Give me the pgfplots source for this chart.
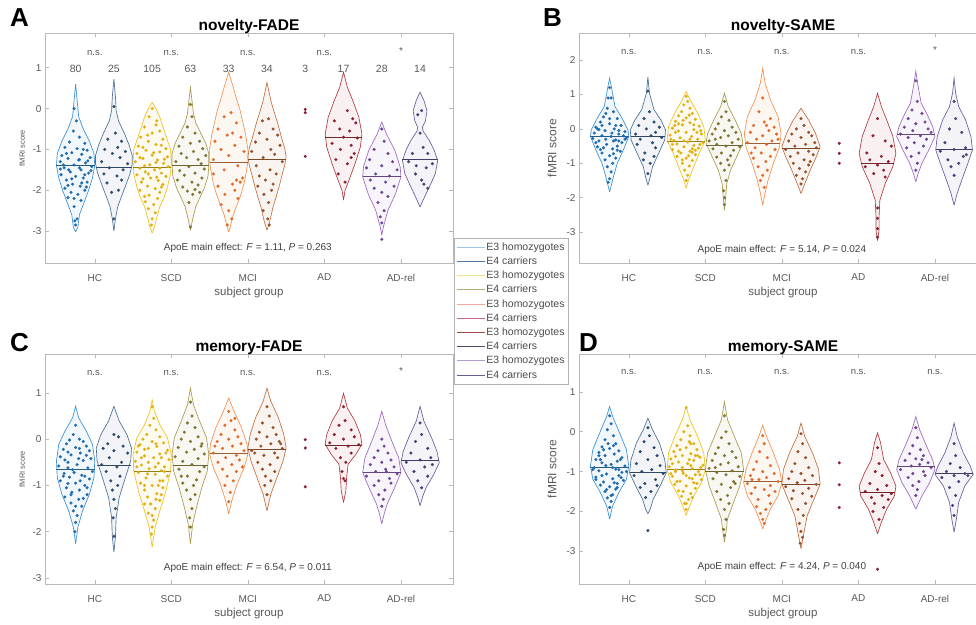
\documentclass[border=0pt]{standalone}
\usepackage{fontspec}
\setmainfont{Liberation Sans}
\usepackage{pgfplots}
\pgfplotsset{compat=1.18}

\definecolor{hcA}{HTML}{3A8FD0}
\definecolor{hcB}{HTML}{4A6F95}
\definecolor{scA}{HTML}{EEC21E}
\definecolor{scB}{HTML}{A89A50}
\definecolor{mcA}{HTML}{F09050}
\definecolor{mcB}{HTML}{C0703F}
\definecolor{adB}{HTML}{B03A40}
\definecolor{arA}{HTML}{9A6AC0}
\definecolor{arB}{HTML}{6A5A9A}
\definecolor{hcAd}{HTML}{1F6AAE}
\definecolor{hcBd}{HTML}{2E4A6E}
\definecolor{scAd}{HTML}{E0B010}
\definecolor{scBd}{HTML}{7F7430}
\definecolor{mcAd}{HTML}{E06A2A}
\definecolor{mcBd}{HTML}{94502A}
\definecolor{add}{HTML}{8A2030}
\definecolor{arAd}{HTML}{6E4596}
\definecolor{arBd}{HTML}{4A3D75}
\definecolor{lg1}{HTML}{9EC5E8}
\definecolor{lg2}{HTML}{4F77A3}
\definecolor{lg3}{HTML}{F2E08A}
\definecolor{lg4}{HTML}{B5AD78}
\definecolor{lg5}{HTML}{F2A8A0}
\definecolor{lg6}{HTML}{C86A88}
\definecolor{lg7}{HTML}{A04848}
\definecolor{lg8}{HTML}{4A4A6A}
\definecolor{lg9}{HTML}{B89AD8}
\definecolor{lg10}{HTML}{6A5A9A}

% violin outline from a profile list y/halfwidth (bottom tip to top tip)
\newcommand{\violin}[3]{%
  \gdef\vR{}\gdef\vL{}%
  \foreach \yy/\ww in {#3}{%
    \pgfmathsetmacro\xr{#1+\ww}%
    \pgfmathsetmacro\xl{#1-\ww}%
    \xdef\vR{\vR(\xr,\yy)}%
    \xdef\vL{(\xl,\yy)\vL}%
  }%
  \edef\temp{\noexpand\addplot[draw=#2,fill=#2,fill opacity=0.07,line width=0.65pt,forget plot] coordinates {\vR\vL};}%
  \temp
}
\newcommand{\med}[4]{%
  \pgfmathsetmacro\ma{#1-#2}\pgfmathsetmacro\mb{#1+#2}%
  \edef\temp{\noexpand\addplot[draw=#4!65!black,line width=0.9pt,forget plot] coordinates {(\ma,#3) (\mb,#3)};}%
  \temp
}
\newcommand{\pts}[3]{%
  \addplot[only marks,mark=*,mark size=1.45pt,color=#2,mark options={line width=0.2pt},forget plot]
   table[header=false,x expr=\thisrowno{0}+#1,y index=1,row sep=\\]{#3};%
}
\newcommand{\ns}[2]{\node[smalllab] at (axis cs:#1,#2) {n.s.};}
\newcommand{\cnt}[2]{\node[font=\fontsize{10.5}{12}\selectfont, text=black!65] at (axis cs:#1,0.98) {#2};}

\tikzset{
 smalllab/.style={font=\fontsize{9.5}{11}\selectfont, text=black!65},
 apoe/.style={font=\fontsize{10}{12}\selectfont, text=black!75},
}
\pgfplotsset{
 vstyle/.style={
  scale only axis, width=408pt, height=230pt, anchor=south west,
  xmin=0.35, xmax=5.68,
  xtick={1,2,3,4,5}, xticklabels={HC,SCD,MCI,AD,AD-rel},
  tick align=inside, tick pos=both, major tick length=4pt,
  axis line style={gray!55}, tick style={gray!55,line width=0.5pt},
  ticklabel style={font=\fontsize{10}{12}\selectfont, text=black!65},
  xticklabel style={yshift=-7.5pt},
  /pgf/number format/assume math mode=true,
  xlabel={subject group},
  xlabel style={font=\fontsize{11.5}{13}\selectfont, text=black!65, at={(axis description cs:0.5,0)}, anchor=center, yshift=-30pt},
  ylabel={fMRI score},
  title style={font=\bfseries\fontsize{15.5}{18}\selectfont, at={(axis description cs:0.5,1)}, anchor=base, yshift=-3.5pt},
  clip=false,
 },
 leftyl/.style={ylabel style={font=\fontsize{7.5}{9}\selectfont, text=black!65, at={(axis description cs:-0.056,0.5)}, anchor=center}},
 rightyl/.style={ylabel style={font=\fontsize{12}{14}\selectfont, text=black!65, at={(axis description cs:-0.066,0.5)}, anchor=center}},
}

\begin{document}
\begin{tikzpicture}[x=1pt,y=1pt]
\useasboundingbox (0pt,0pt) rectangle (976pt,624pt);
\fill[white] (0pt,0pt) rectangle (976pt,624pt);
\clip (0pt,0pt) rectangle (976pt,624pt);

% ================= B: novelty-SAME =================
\begin{axis}[vstyle, rightyl, at={(579pt,361pt)}, ymin=-3.9, ymax=2.79, ytick={-3,-2,-1,0,1,2}, title={novelty-SAME}]
\violin{0.75}{hcA}{-1.83/0, -1.39/0.05, -1.0/0.1, -0.61/0.18, -0.22/0.25, -0.03/0.24, 0.36/0.15, 0.65/0.07, 1.14/0.03, 1.48/0}
\violin{1.25}{hcB}{-1.64/0, -1.4/0.03, -1.1/0.06, -0.71/0.14, -0.32/0.22, -0.03/0.23, 0.26/0.17, 0.56/0.08, 1.04/0.02, 1.51/0}
\violin{1.75}{scA}{-1.73/0, -1.49/0.03, -1.1/0.1, -0.71/0.17, -0.32/0.25, 0.07/0.23, 0.46/0.15, 0.85/0.05, 1.09/0}
\violin{2.25}{scB}{-2.37/0, -1.88/0.02, -1.59/0.03, -1.2/0.08, -0.81/0.16, -0.42/0.24, -0.13/0.22, 0.26/0.14, 0.65/0.05, 1.04/0}
\violin{2.75}{mcA}{-2.22/0, -1.88/0.03, -1.49/0.07, -1.0/0.14, -0.52/0.22, -0.13/0.24, 0.36/0.2, 0.85/0.1, 1.34/0.03, 1.77/0}
\violin{3.25}{mcB}{-1.88/0, -1.59/0.05, -1.2/0.12, -0.81/0.2, -0.52/0.25, -0.13/0.19, 0.26/0.1, 0.6/0}
\violin{4.25}{adB}{-3.25/0, -2.95/0.02, -2.56/0.02, -2.08/0.03, -1.59/0.1, -1.1/0.2, -0.71/0.24, -0.22/0.2, 0.26/0.12, 0.65/0.05, 1.04/0}
\violin{4.75}{arA}{-1.54/0, -1.3/0.03, -1.0/0.08, -0.61/0.17, -0.22/0.25, 0.07/0.22, 0.46/0.14, 0.75/0.07, 1.24/0.03, 1.68/0}
\violin{5.25}{arB}{-2.22/0, -1.88/0.04, -1.49/0.1, -1.0/0.18, -0.61/0.24, -0.22/0.22, 0.26/0.15, 0.65/0.06, 1.04/0.02, 1.48/0}
\pts{0.75}{hcAd}{0.0 1.2\\0.02 0.9\\-0.03 0.6\\0.05 0.5\\-0.08 0.35\\0.1 0.3\\-0.12 0.2\\0.0 0.15\\0.15 0.1\\-0.18 0.05\\0.06 0.0\\-0.06 -0.05\\0.2 -0.08\\-0.2 -0.12\\0.12 -0.15\\-0.1 -0.2\\0.02 -0.22\\0.22 -0.25\\-0.22 -0.28\\0.08 -0.32\\-0.14 -0.35\\0.16 -0.4\\-0.04 -0.45\\0.1 -0.5\\-0.16 -0.52\\0.04 -0.58\\0.14 -0.65\\-0.1 -0.7\\0.0 -0.78\\0.08 -0.85\\-0.06 -0.9\\0.04 -1.0\\-0.03 -1.1\\0.02 -1.25\\0.0 -1.45\\-0.02 -1.55\\0.18 -0.2\\-0.16 0.0\\0.05 -0.35\\-0.05 0.45\\}
\pts{0.75}{hcAd}{0.08 0.1\\-0.1 0.1\\0.12 -0.05\\-0.14 -0.02\\0.03 -0.12\\-0.05 -0.3\\0.12 -0.35\\-0.18 -0.4\\0.2 -0.3\\-0.08 -0.55\\0.1 -0.62\\-0.12 -0.6\\0.05 -0.72\\0.0 0.3\\-0.02 0.9\\}
\pts{1.25}{hcBd}{0.0 1.1\\0.02 0.5\\-0.05 0.3\\0.08 0.2\\-0.12 0.1\\0.15 0.05\\-0.02 0.0\\0.1 -0.1\\-0.16 -0.15\\0.04 -0.2\\0.18 -0.25\\-0.1 -0.3\\0.06 -0.4\\-0.14 -0.45\\0.1 -0.55\\-0.04 -0.7\\0.08 -0.8\\-0.06 -0.9\\0.03 -1.0\\0.0 -1.3\\}
\pts{1.75}{scAd}{0.0 0.95\\0.02 0.8\\-0.03 0.7\\0.05 0.6\\-0.06 0.5\\0.08 0.45\\-0.1 0.38\\0.0 0.32\\0.12 0.28\\-0.14 0.22\\0.05 0.18\\-0.05 0.12\\0.17 0.08\\-0.18 0.02\\0.1 -0.02\\-0.1 -0.06\\0.0 -0.1\\0.2 -0.15\\-0.21 -0.18\\0.07 -0.22\\-0.08 -0.26\\0.15 -0.3\\-0.16 -0.34\\0.02 -0.38\\0.22 -0.4\\-0.12 -0.44\\0.1 -0.48\\-0.03 -0.52\\0.16 -0.56\\-0.18 -0.6\\0.05 -0.65\\-0.07 -0.7\\0.12 -0.75\\-0.12 -0.8\\0.0 -0.85\\0.08 -0.92\\-0.05 -1.0\\0.04 -1.08\\-0.02 -1.2\\0.02 -1.35\\0.0 -1.5\\-0.2 -0.3\\0.19 -0.05\\-0.15 0.1\\0.12 -0.62\\}
\pts{1.75}{scAd}{0.04 0.4\\-0.04 0.25\\0.1 0.12\\-0.1 0.15\\0.14 -0.1\\-0.14 -0.1\\0.05 -0.3\\-0.03 -0.35\\0.18 -0.45\\-0.18 -0.45\\0.08 -0.58\\-0.1 -0.65\\0.03 -0.78\\-0.05 -0.9\\0.08 -0.68\\}
\pts{2.25}{scBd}{0.0 0.8\\0.02 0.5\\-0.04 0.35\\0.06 0.25\\-0.08 0.15\\0.1 0.05\\-0.12 0.0\\0.0 -0.05\\0.15 -0.1\\-0.16 -0.15\\0.05 -0.2\\-0.05 -0.25\\0.18 -0.3\\-0.2 -0.35\\0.1 -0.4\\-0.1 -0.45\\0.02 -0.5\\0.2 -0.52\\-0.15 -0.58\\0.12 -0.62\\-0.04 -0.7\\0.08 -0.78\\-0.1 -0.82\\0.04 -0.9\\-0.05 -1.0\\0.06 -1.05\\0.0 -1.2\\0.02 -1.5\\-0.01 -1.8\\0.0 -2.0\\0.0 -2.2\\-0.12 -0.3\\}
\pts{2.75}{mcAd}{0.0 0.9\\-0.05 0.5\\0.1 0.3\\0.02 0.2\\-0.12 0.1\\0.15 0.05\\0.08 -0.05\\-0.16 -0.1\\0.18 -0.15\\0.0 -0.2\\-0.08 -0.3\\0.12 -0.35\\-0.2 -0.4\\0.05 -0.45\\-0.1 -0.55\\0.16 -0.6\\-0.02 -0.7\\0.1 -0.8\\-0.12 -0.85\\0.04 -0.95\\-0.06 -1.1\\0.06 -1.2\\0.0 -1.35\\-0.03 -1.5\\0.02 -1.7\\0.2 -0.3\\0.05 0.1\\-0.15 -0.7\\}
\pts{3.25}{mcBd}{0.0 0.3\\0.04 0.1\\-0.06 0.0\\0.1 -0.1\\-0.12 -0.15\\0.14 -0.2\\0.0 -0.25\\-0.16 -0.35\\0.18 -0.4\\0.06 -0.45\\-0.08 -0.5\\0.2 -0.55\\-0.2 -0.6\\0.1 -0.65\\-0.04 -0.7\\0.16 -0.75\\-0.14 -0.8\\0.04 -0.9\\-0.1 -1.0\\0.1 -1.05\\-0.02 -1.15\\0.06 -1.25\\-0.06 -1.35\\0.02 -1.45\\0.0 -1.6\\0.12 -0.95\\}
\pts{3.75}{add}{0 -0.42\\0 -0.71\\0 -1.0\\}
\pts{4.25}{add}{0.0 0.3\\-0.06 -0.2\\0.1 -0.35\\-0.14 -0.7\\0.18 -0.5\\0.05 -0.8\\-0.1 -0.9\\0.14 -0.95\\0.0 -1.05\\-0.16 -1.1\\0.08 -1.2\\-0.05 -1.3\\0.1 -1.4\\0.0 -2.3\\0.0 -2.6\\0.0 -2.9\\0.0 -3.15\\}
\pts{4.75}{arAd}{0.0 1.4\\0.02 0.8\\-0.05 0.55\\0.08 0.45\\-0.1 0.3\\0.12 0.2\\0.0 0.15\\-0.15 0.05\\0.16 0.0\\-0.04 -0.05\\0.2 -0.1\\-0.2 -0.15\\0.06 -0.2\\-0.1 -0.25\\0.14 -0.3\\-0.02 -0.4\\0.1 -0.5\\-0.12 -0.55\\0.04 -0.7\\-0.06 -0.8\\0.02 -1.0\\0.0 -1.2\\}
\pts{5.25}{arBd}{0.0 0.8\\0.02 0.3\\-0.06 0.0\\0.1 -0.1\\-0.12 -0.4\\0.15 -0.55\\0.0 -0.6\\-0.18 -0.65\\0.12 -0.8\\-0.08 -0.9\\0.06 -1.0\\0.16 -0.75\\0.0 -1.35\\-0.04 -1.1\\}
\med{0.75}{0.25}{-0.22}{hcA}
\med{1.25}{0.22}{-0.22}{hcB}
\med{1.75}{0.25}{-0.37}{scA}
\med{2.25}{0.24}{-0.47}{scB}
\med{2.75}{0.23}{-0.42}{mcA}
\med{3.25}{0.25}{-0.57}{mcB}
\med{4.25}{0.22}{-1.0}{adB}
\med{4.75}{0.25}{-0.15}{arA}
\med{5.25}{0.24}{-0.59}{arB}
\ns{1}{2.25}\ns{2}{2.25}\ns{3}{2.25}\ns{4}{2.25}
\node[font=\fontsize{10}{12}\selectfont, text=black!65] at (axis cs:5,2.3) {*};
\node[apoe] at (axis cs:3,-3.51) {ApoE main effect: \textit{F} = 5.14, \textit{P} = 0.024};
\end{axis}

% ================= C: memory-FADE =================
\begin{axis}[vstyle, leftyl, at={(45pt,40pt)}, ymin=-3.13, ymax=1.84, ytick={-3,-2,-1,0,1}, title={memory-FADE}]
\violin{0.75}{hcA}{-2.26/0, -1.9/0.03, -1.55/0.09, -1.19/0.18, -0.83/0.24, -0.47/0.25, -0.11/0.22, 0.17/0.14, 0.46/0.04, 0.71/0}
\violin{1.25}{hcB}{-2.44/0, -2.12/0.02, -1.69/0.03, -1.26/0.07, -0.83/0.15, -0.47/0.22, -0.19/0.23, 0.1/0.17, 0.39/0.07, 0.71/0}
\violin{1.75}{scA}{-2.33/0, -1.9/0.04, -1.55/0.1, -1.12/0.18, -0.69/0.24, -0.33/0.25, 0.03/0.2, 0.31/0.1, 0.6/0.03, 0.85/0}
\violin{2.25}{scB}{-2.26/0, -1.83/0.03, -1.47/0.08, -1.04/0.15, -0.69/0.22, -0.33/0.24, 0.03/0.21, 0.39/0.12, 0.74/0.04, 1.1/0}
\violin{2.75}{mcA}{-1.62/0, -1.33/0.04, -0.97/0.11, -0.62/0.2, -0.33/0.25, -0.11/0.24, 0.24/0.17, 0.6/0.07, 0.89/0}
\violin{3.25}{mcB}{-1.55/0, -1.19/0.05, -0.83/0.13, -0.47/0.21, -0.19/0.25, 0.1/0.22, 0.46/0.15, 0.82/0.05, 1.1/0}
\violin{4.25}{adB}{-1.37/0, -1.12/0.03, -0.83/0.04, -0.54/0.06, -0.33/0.16, -0.11/0.24, 0.1/0.22, 0.39/0.15, 0.67/0.05, 0.99/0}
\violin{4.75}{arA}{-1.83/0, -1.62/0.03, -1.4/0.07, -1.04/0.17, -0.72/0.25, -0.4/0.22, -0.04/0.13, 0.31/0.05, 0.6/0}
\violin{5.25}{arB}{-1.44/0, -1.26/0.03, -1.04/0.08, -0.76/0.18, -0.51/0.25, -0.26/0.22, 0.03/0.15, 0.39/0.05, 0.71/0}
\pts{0.75}{hcAd}{0.0 0.3\\-0.03 0.1\\0.05 0.0\\-0.08 -0.02\\0.1 -0.05\\-0.12 -0.1\\0.14 -0.15\\0.0 -0.18\\-0.16 -0.22\\0.18 -0.25\\0.06 -0.3\\-0.06 -0.34\\-0.2 -0.38\\0.2 -0.42\\0.1 -0.46\\-0.1 -0.5\\0.02 -0.55\\-0.22 -0.58\\0.16 -0.62\\-0.04 -0.66\\0.22 -0.7\\-0.15 -0.74\\0.08 -0.78\\-0.08 -0.82\\0.18 -0.86\\-0.2 -0.9\\0.0 -0.95\\0.12 -1.0\\-0.12 -1.05\\0.05 -1.1\\-0.05 -1.15\\0.15 -1.2\\-0.14 -1.25\\0.04 -1.3\\-0.06 -1.38\\0.08 -1.45\\-0.03 -1.55\\0.02 -1.65\\0.0 -1.8\\-0.01 -2.0\\}
\pts{0.75}{hcAd}{0.05 -0.2\\-0.1 -0.28\\0.14 -0.35\\-0.14 -0.45\\0.04 -0.42\\-0.02 -0.72\\0.12 -0.8\\-0.16 -0.8\\0.06 -0.9\\-0.1 -0.96\\0.15 -1.05\\-0.06 -1.2\\0.1 -1.28\\0.0 -1.45\\-0.1 -0.62\\}
\pts{1.25}{hcBd}{0.0 0.1\\0.06 0.05\\-0.08 -0.1\\0.12 -0.15\\-0.14 -0.2\\0.0 -0.25\\0.18 -0.3\\-0.06 -0.4\\0.1 -0.5\\-0.16 -0.55\\0.04 -0.6\\-0.1 -0.7\\0.08 -0.8\\-0.04 -0.9\\0.05 -1.0\\-0.02 -1.1\\0.0 -1.3\\0.02 -1.5\\-0.01 -1.7\\0.0 -2.1\\}
\pts{1.75}{scAd}{0.0 0.7\\0.02 0.45\\-0.03 0.3\\0.05 0.2\\-0.07 0.1\\0.1 0.05\\-0.12 0.0\\0.0 -0.05\\0.15 -0.08\\-0.16 -0.12\\0.06 -0.16\\-0.05 -0.2\\0.2 -0.24\\-0.2 -0.28\\0.1 -0.32\\-0.1 -0.36\\0.02 -0.4\\0.22 -0.44\\-0.22 -0.48\\0.08 -0.52\\-0.14 -0.56\\0.16 -0.6\\-0.04 -0.64\\0.12 -0.68\\-0.18 -0.72\\0.04 -0.76\\0.2 -0.8\\-0.08 -0.84\\0.1 -0.9\\-0.15 -0.95\\0.0 -1.0\\0.14 -1.05\\-0.1 -1.1\\0.06 -1.18\\-0.06 -1.25\\0.1 -1.32\\-0.02 -1.4\\0.04 -1.5\\-0.05 -1.6\\0.02 -1.75\\0.0 -1.9\\-0.01 -2.05\\0.18 -0.3\\-0.18 -0.15\\0.14 -0.9\\}
\pts{1.75}{scAd}{0.05 -0.1\\-0.1 -0.22\\0.12 -0.4\\-0.14 -0.4\\0.04 -0.6\\-0.06 -0.75\\0.16 -0.7\\-0.2 -0.6\\0.08 -1.0\\-0.1 -1.0\\0.12 -1.2\\-0.1 -1.4\\0.05 -1.3\\0.0 -1.65\\-0.05 -0.5\\}
\pts{2.25}{scBd}{0.0 0.8\\0.02 0.5\\-0.04 0.35\\0.06 0.25\\-0.08 0.15\\0.1 0.05\\-0.12 0.0\\0.0 -0.05\\0.15 -0.1\\-0.16 -0.18\\0.05 -0.22\\-0.05 -0.28\\0.18 -0.32\\-0.2 -0.38\\0.1 -0.42\\-0.1 -0.48\\0.02 -0.55\\0.18 -0.6\\-0.15 -0.65\\0.12 -0.7\\-0.04 -0.8\\0.08 -0.88\\-0.1 -0.95\\0.04 -1.0\\-0.05 -1.1\\0.06 -1.2\\0.0 -1.3\\0.02 -1.5\\-0.01 -1.7\\0.0 -1.9\\0.14 -0.15\\-0.12 -0.8\\}
\pts{2.75}{mcAd}{0.0 0.6\\0.03 0.4\\-0.05 0.3\\0.08 0.2\\-0.1 0.1\\0.12 0.05\\0.0 0.0\\-0.15 -0.05\\0.16 -0.1\\0.05 -0.15\\-0.08 -0.2\\0.2 -0.25\\-0.2 -0.3\\0.1 -0.35\\-0.04 -0.4\\0.14 -0.45\\-0.14 -0.5\\0.04 -0.55\\-0.08 -0.65\\0.1 -0.7\\-0.02 -0.8\\0.06 -0.9\\-0.05 -1.0\\0.02 -1.15\\0.0 -1.35\\0.18 -0.6\\-0.18 -0.15\\0.08 0.45\\}
\pts{3.25}{mcBd}{0.0 0.7\\0.03 0.5\\-0.06 0.35\\0.08 0.25\\-0.1 0.15\\0.12 0.1\\0.0 0.05\\-0.14 0.0\\0.16 -0.05\\0.05 -0.1\\-0.08 -0.15\\0.2 -0.2\\-0.2 -0.25\\0.1 -0.3\\-0.04 -0.35\\0.14 -0.4\\-0.12 -0.5\\0.04 -0.55\\-0.06 -0.65\\0.1 -0.7\\-0.02 -0.8\\0.05 -0.9\\-0.03 -1.0\\0.0 -1.2\\0.18 -0.1\\-0.16 -0.3\\}
\pts{3.75}{add}{0 -0.01\\0 -0.19\\0 -1.03\\}
\pts{4.25}{add}{0.0 0.7\\0.02 0.4\\-0.06 0.3\\0.1 0.2\\-0.12 0.1\\0.14 0.05\\0.0 0.0\\-0.18 -0.08\\0.2 -0.12\\0.06 -0.15\\-0.1 -0.2\\0.1 -0.3\\-0.04 -0.4\\0.03 -0.5\\0.0 -0.85\\0.02 -0.9\\-0.02 -0.7\\}
\pts{4.75}{arAd}{0.0 0.0\\0.03 -0.15\\-0.05 -0.25\\0.08 -0.3\\-0.1 -0.4\\0.12 -0.45\\0.0 -0.5\\-0.15 -0.55\\0.16 -0.6\\0.05 -0.65\\-0.08 -0.7\\0.2 -0.75\\-0.2 -0.8\\0.1 -0.85\\-0.04 -0.9\\0.12 -0.95\\-0.1 -1.0\\0.04 -1.1\\-0.04 -1.2\\0.02 -1.3\\0.0 -1.45\\0.06 -0.7\\}
\pts{5.25}{arBd}{0.0 0.35\\0.02 0.1\\-0.06 -0.05\\0.1 -0.2\\-0.12 -0.3\\0.14 -0.4\\0.0 -0.45\\-0.18 -0.5\\0.16 -0.55\\0.06 -0.6\\-0.08 -0.7\\0.1 -0.8\\-0.03 -0.9\\0.02 -1.05\\}
\med{0.75}{0.25}{-0.65}{hcA}
\med{1.25}{0.22}{-0.57}{hcB}
\med{1.75}{0.24}{-0.69}{scA}
\med{2.25}{0.23}{-0.57}{scB}
\med{2.75}{0.25}{-0.31}{mcA}
\med{3.25}{0.25}{-0.22}{mcB}
\med{4.25}{0.24}{-0.14}{adB}
\med{4.75}{0.25}{-0.72}{arA}
\med{5.25}{0.25}{-0.47}{arB}
\ns{1}{1.42}\ns{2}{1.42}\ns{3}{1.42}\ns{4}{1.42}
\node[font=\fontsize{10}{12}\selectfont, text=black!65] at (axis cs:5,1.47) {*};
\node[apoe] at (axis cs:3,-2.79) {ApoE main effect: \textit{F} = 6.54, \textit{P} = 0.011};
\end{axis}

% ================= D: memory-SAME =================
\begin{axis}[vstyle, rightyl, at={(579pt,40pt)}, ymin=-3.82, ymax=1.95, ytick={-3,-2,-1,0,1}, title={memory-SAME}]
\violin{0.75}{hcA}{-2.19/0, -1.86/0.04, -1.53/0.12, -1.19/0.22, -0.86/0.25, -0.45/0.22, -0.03/0.13, 0.38/0.04, 0.63/0}
\violin{1.25}{hcB}{-2.06/0, -1.94/0.03, -1.69/0.07, -1.36/0.16, -1.03/0.24, -0.7/0.22, -0.28/0.15, 0.05/0.06, 0.34/0}
\violin{1.75}{scA}{-2.1/0, -1.94/0.03, -1.61/0.1, -1.28/0.2, -0.95/0.25, -0.53/0.23, -0.12/0.15, 0.3/0.05, 0.63/0}
\violin{2.25}{scB}{-2.77/0, -2.52/0.02, -2.19/0.04, -1.77/0.12, -1.36/0.2, -0.95/0.25, -0.53/0.22, -0.12/0.13, 0.3/0.04, 0.75/0}
\violin{2.75}{mcA}{-2.44/0, -2.27/0.03, -1.94/0.1, -1.61/0.2, -1.28/0.25, -0.95/0.22, -0.53/0.14, -0.12/0.05, 0.17/0}
\violin{3.25}{mcB}{-2.94/0, -2.52/0.04, -2.11/0.08, -1.69/0.17, -1.32/0.25, -0.95/0.23, -0.53/0.15, -0.12/0.05, 0.22/0}
\violin{4.25}{adB}{-2.56/0, -2.27/0.05, -1.94/0.12, -1.61/0.22, -1.36/0.24, -1.03/0.17, -0.7/0.08, -0.28/0.04, -0.03/0}
\violin{4.75}{arA}{-1.94/0, -1.61/0.08, -1.28/0.18, -0.95/0.25, -0.7/0.22, -0.36/0.14, 0.05/0.05, 0.38/0}
\violin{5.25}{arB}{-2.52/0, -2.19/0.03, -1.77/0.06, -1.36/0.14, -1.07/0.25, -0.86/0.21, -0.53/0.12, -0.12/0.04, 0.22/0}
\pts{0.75}{hcAd}{0.0 0.4\\0.02 0.2\\-0.03 0.05\\0.05 -0.1\\-0.06 -0.2\\0.08 -0.3\\-0.1 -0.38\\0.0 -0.42\\0.12 -0.48\\-0.14 -0.52\\0.06 -0.56\\-0.06 -0.6\\0.16 -0.65\\-0.18 -0.7\\0.1 -0.74\\-0.1 -0.78\\0.02 -0.82\\0.2 -0.86\\-0.2 -0.9\\0.08 -0.94\\-0.14 -0.98\\0.16 -1.02\\-0.04 -1.06\\0.12 -1.1\\-0.18 -1.14\\0.04 -1.18\\0.18 -1.22\\-0.08 -1.26\\0.1 -1.3\\-0.12 -1.34\\0.0 -1.38\\0.08 -1.44\\-0.06 -1.5\\0.04 -1.58\\-0.03 -1.66\\0.02 -1.75\\0.0 -1.9\\-0.22 -0.95\\0.22 -1.0\\-0.12 -0.7\\}
\pts{0.75}{hcAd}{0.05 -0.35\\-0.08 -0.45\\0.14 -0.7\\-0.14 -0.6\\0.04 -0.9\\-0.05 -0.85\\0.15 -1.15\\-0.18 -1.2\\0.06 -1.28\\-0.1 -1.1\\0.12 -0.95\\-0.04 -1.45\\0.1 -1.4\\0.02 -1.6\\-0.02 -0.3\\}
\pts{1.25}{hcBd}{0.0 0.1\\0.02 -0.1\\-0.05 -0.25\\0.08 -0.4\\-0.1 -0.5\\0.12 -0.6\\0.0 -0.7\\-0.15 -0.8\\0.16 -0.85\\0.05 -0.95\\-0.08 -1.0\\0.2 -1.05\\-0.18 -1.1\\0.1 -1.2\\-0.04 -1.3\\0.12 -1.35\\-0.1 -1.4\\0.04 -1.5\\-0.03 -1.65\\0.0 -2.48\\}
\pts{1.75}{scAd}{0.0 0.6\\0.02 0.15\\-0.03 0.0\\0.05 -0.1\\-0.07 -0.2\\0.1 -0.3\\-0.12 -0.35\\0.0 -0.4\\0.14 -0.45\\-0.16 -0.5\\0.06 -0.55\\-0.05 -0.6\\0.18 -0.64\\-0.2 -0.68\\0.1 -0.72\\-0.1 -0.76\\0.02 -0.8\\0.22 -0.84\\-0.22 -0.88\\0.08 -0.92\\-0.14 -0.96\\0.16 -1.0\\-0.04 -1.04\\0.12 -1.08\\-0.18 -1.12\\0.04 -1.16\\0.2 -1.2\\-0.08 -1.24\\0.1 -1.28\\-0.15 -1.32\\0.0 -1.36\\0.12 -1.42\\-0.1 -1.48\\0.06 -1.55\\-0.06 -1.62\\0.03 -1.7\\-0.02 -1.8\\0.0 -1.95\\0.19 -0.9\\-0.18 -0.8\\0.15 -0.6\\-0.14 -1.0\\0.06 -0.3\\-0.05 -0.9\\0.0 -1.1\\}
\pts{1.75}{scAd}{0.04 -0.25\\-0.08 -0.45\\0.12 -0.6\\-0.14 -0.62\\0.04 -0.7\\-0.05 -0.98\\0.18 -1.08\\-0.2 -1.05\\0.08 -1.18\\-0.12 -1.25\\0.14 -1.3\\-0.04 -1.5\\0.08 -1.65\\0.0 -1.8\\0.06 -0.85\\}
\pts{2.25}{scBd}{0.0 0.4\\0.02 0.0\\-0.04 -0.15\\0.06 -0.3\\-0.08 -0.4\\0.1 -0.5\\-0.12 -0.55\\0.0 -0.6\\0.15 -0.65\\-0.16 -0.72\\0.05 -0.78\\-0.05 -0.82\\0.18 -0.88\\-0.2 -0.92\\0.1 -0.98\\-0.1 -1.02\\0.02 -1.08\\0.2 -1.12\\-0.15 -1.18\\0.12 -1.25\\-0.04 -1.32\\0.08 -1.4\\-0.1 -1.5\\0.04 -1.6\\-0.05 -1.7\\0.06 -1.8\\0.0 -1.95\\0.02 -2.2\\-0.01 -2.45\\0.0 -2.6\\0.14 -1.3\\-0.12 -0.9\\}
\pts{2.75}{mcAd}{0.0 -0.1\\0.02 -0.3\\-0.04 -0.5\\0.06 -0.65\\-0.08 -0.75\\0.1 -0.85\\-0.12 -0.95\\0.0 -1.0\\0.15 -1.05\\-0.16 -1.1\\0.05 -1.15\\-0.05 -1.2\\0.2 -1.25\\-0.2 -1.3\\0.1 -1.35\\-0.1 -1.4\\0.02 -1.45\\0.16 -1.5\\-0.15 -1.55\\0.08 -1.6\\-0.06 -1.7\\0.1 -1.8\\-0.08 -1.88\\0.04 -1.95\\-0.03 -2.05\\0.0 -2.2\\0.02 -2.3\\-0.14 -1.2\\}
\pts{3.25}{mcBd}{0.0 -0.05\\0.02 -0.3\\-0.04 -0.5\\0.06 -0.65\\-0.08 -0.8\\0.1 -0.9\\-0.12 -1.0\\0.0 -1.05\\0.15 -1.1\\-0.16 -1.18\\0.05 -1.22\\-0.05 -1.28\\0.2 -1.32\\-0.2 -1.38\\0.1 -1.42\\-0.1 -1.48\\0.02 -1.55\\0.14 -1.62\\-0.12 -1.68\\0.06 -1.8\\-0.04 -1.95\\0.03 -2.1\\-0.02 -2.3\\0.0 -2.5\\0.02 -2.65\\-0.01 -2.8\\}
\pts{3.75}{add}{0 -0.78\\0 -1.33\\0 -1.9\\}
\pts{4.25}{add}{0.0 -0.4\\0.02 -0.8\\-0.03 -1.0\\0.06 -1.1\\-0.1 -1.3\\0.12 -1.35\\0.0 -1.45\\-0.16 -1.5\\0.18 -1.55\\0.06 -1.6\\-0.08 -1.65\\0.14 -1.7\\-0.04 -1.8\\0.08 -1.9\\-0.06 -2.0\\0.02 -2.2\\0.0 -3.45\\}
\pts{4.75}{arAd}{0.0 0.1\\0.02 -0.15\\-0.04 -0.35\\0.06 -0.45\\-0.08 -0.55\\0.1 -0.6\\0.0 -0.68\\-0.14 -0.72\\0.16 -0.78\\0.05 -0.82\\-0.06 -0.86\\0.2 -0.9\\-0.2 -0.95\\0.1 -1.0\\-0.04 -1.05\\0.12 -1.1\\-0.1 -1.15\\0.04 -1.25\\-0.04 -1.35\\0.02 -1.45\\0.0 -1.6\\0.08 -0.7\\}
\pts{5.25}{arBd}{0.0 -0.3\\0.02 -0.6\\-0.05 -0.8\\0.08 -0.9\\-0.1 -1.0\\0.14 -1.05\\0.0 -1.1\\-0.16 -1.15\\0.18 -1.1\\0.06 -1.25\\-0.06 -1.4\\0.02 -1.6\\0.0 -2.1\\-0.02 -1.85\\}
\med{0.75}{0.25}{-0.9}{hcA}
\med{1.25}{0.24}{-1.03}{hcB}
\med{1.75}{0.25}{-0.95}{scA}
\med{2.25}{0.25}{-1.0}{scB}
\med{2.75}{0.25}{-1.25}{mcA}
\med{3.25}{0.25}{-1.33}{mcB}
\med{4.25}{0.23}{-1.53}{adB}
\med{4.75}{0.25}{-0.86}{arA}
\med{5.25}{0.25}{-1.05}{arB}
\ns{1}{1.49}\ns{2}{1.49}\ns{3}{1.49}\ns{4}{1.49}\ns{5}{1.49}
\node[apoe] at (axis cs:3,-3.38) {ApoE main effect: \textit{F} = 4.24, \textit{P} = 0.040};
\end{axis}

% ================= A: novelty-FADE =================
\begin{axis}[vstyle, leftyl, at={(45pt,361pt)}, ymin=-3.78, ymax=1.85, ytick={-3,-2,-1,0,1}, title={novelty-FADE},
  legend style={at={(axis description cs:1.0025,0.109)}, anchor=north west, draw=gray!60, fill=white,
    font=\fontsize{10.5}{12}\selectfont, text=black!70, inner sep=2pt, row sep=0pt,
    nodes={inner sep=1.2pt, text height=9pt, text depth=2.8pt}},
  legend cell align=left,
  legend image code/.code={\draw[#1] (0pt,0pt) -- (28pt,0pt);}]
\addlegendimage{lg1,line width=0.9pt}\addlegendentry{E3 homozygotes}
\addlegendimage{lg2,line width=0.9pt}\addlegendentry{E4 carriers}
\addlegendimage{lg3,line width=0.9pt}\addlegendentry{E3 homozygotes}
\addlegendimage{lg4,line width=0.9pt}\addlegendentry{E4 carriers}
\addlegendimage{lg5,line width=0.9pt}\addlegendentry{E3 homozygotes}
\addlegendimage{lg6,line width=0.9pt}\addlegendentry{E4 carriers}
\addlegendimage{lg7,line width=0.9pt}\addlegendentry{E3 homozygotes}
\addlegendimage{lg8,line width=0.9pt}\addlegendentry{E4 carriers}
\addlegendimage{lg9,line width=0.9pt}\addlegendentry{E3 homozygotes}
\addlegendimage{lg10,line width=0.9pt}\addlegendentry{E4 carriers}
\violin{0.75}{hcA}{-3.02/0, -2.9/0.03, -2.6/0.05, -2.3/0.11, -2.0/0.17, -1.7/0.22, -1.4/0.25, -1.1/0.24, -0.8/0.18, -0.5/0.1, -0.2/0.04, 0.2/0.02, 0.6/0}
\violin{1.25}{hcB}{-3.0/0, -2.7/0.02, -2.4/0.05, -2.1/0.11, -1.9/0.15, -1.6/0.21, -1.35/0.24, -1.15/0.24, -0.9/0.2, -0.62/0.14, -0.3/0.06, -0.05/0.03, 0.3/0.02, 0.72/0}
\violin{1.75}{scA}{-3.05/0, -2.9/0.03, -2.6/0.07, -2.4/0.1, -2.15/0.16, -1.92/0.2, -1.6/0.24, -1.3/0.25, -1.0/0.24, -0.78/0.2, -0.5/0.15, -0.21/0.1, 0.0/0.05, 0.15/0}
\violin{2.25}{scB}{-2.98/0, -2.7/0.03, -2.4/0.07, -2.15/0.13, -1.95/0.18, -1.65/0.23, -1.4/0.24, -1.1/0.24, -0.85/0.2, -0.62/0.14, -0.35/0.07, -0.13/0.04, 0.2/0.02, 0.52/0}
\violin{2.75}{mcA}{-3.02/0, -2.9/0.02, -2.6/0.06, -2.4/0.1, -2.1/0.16, -1.84/0.2, -1.55/0.23, -1.3/0.25, -1.0/0.25, -0.62/0.22, -0.3/0.18, -0.05/0.15, 0.25/0.1, 0.52/0.06, 0.89/0}
\violin{3.25}{mcB}{-2.98/0, -2.8/0.03, -2.65/0.05, -2.4/0.08, -2.16/0.12, -1.9/0.16, -1.6/0.2, -1.4/0.23, -1.19/0.25, -0.95/0.23, -0.78/0.2, -0.5/0.16, -0.3/0.13, 0.0/0.08, 0.2/0.05, 0.64/0}
\violin{4.25}{adB}{-2.24/0, -2.0/0.02, -1.76/0.07, -1.35/0.15, -0.94/0.22, -0.62/0.24, -0.21/0.2, 0.2/0.12, 0.52/0.05, 0.89/0}
\violin{4.75}{arA}{-3.1/0, -2.9/0.02, -2.49/0.08, -2.08/0.18, -1.67/0.25, -1.43/0.24, -1.02/0.17, -0.62/0.06, -0.33/0}
\violin{5.25}{arB}{-2.41/0, -2.24/0.04, -2.0/0.1, -1.84/0.14, -1.59/0.2, -1.27/0.23, -1.0/0.18, -0.78/0.12, -0.55/0.04, -0.46/0.03, -0.3/0.07, -0.05/0.09, 0.2/0.05, 0.4/0}
\pts{0.75}{hcAd}{-0.02 0.0\\0.01 -0.3\\-0.03 -0.55\\0.05 -0.7\\-0.08 -0.82\\0.12 -0.85\\-0.14 -0.95\\0.02 -0.98\\0.15 -1.02\\-0.05 -1.08\\0.08 -1.12\\-0.18 -1.15\\0.19 -1.2\\-0.1 -1.22\\0.04 -1.26\\-0.2 -1.3\\0.13 -1.33\\-0.02 -1.38\\0.21 -1.42\\-0.15 -1.45\\0.07 -1.5\\-0.07 -1.55\\0.17 -1.58\\-0.19 -1.62\\0.0 -1.66\\0.1 -1.7\\-0.12 -1.75\\0.15 -1.8\\-0.04 -1.85\\0.06 -1.9\\-0.14 -1.95\\0.12 -2.0\\-0.06 -2.05\\0.03 -2.1\\-0.1 -2.18\\0.07 -2.25\\-0.02 -2.4\\0.02 -2.7\\-0.01 -2.75\\0.0 -2.85\\}
\pts{0.75}{hcAd}{0.1 -1.0\\-0.12 -1.1\\0.16 -1.28\\-0.16 -1.38\\0.05 -1.45\\-0.09 -1.5\\0.2 -1.52\\-0.2 -1.48\\0.12 -1.62\\-0.05 -1.72\\0.08 -1.82\\-0.1 -1.88\\0.14 -1.92\\-0.02 -2.2\\0.05 -1.25\\}
\pts{1.25}{hcBd}{0.0 0.05\\0.02 -0.6\\-0.08 -0.75\\0.1 -0.8\\0.05 -0.95\\-0.12 -1.0\\0.15 -1.05\\-0.02 -1.1\\0.08 -1.2\\-0.16 -1.3\\0.18 -1.35\\-0.06 -1.45\\0.12 -1.5\\-0.13 -1.6\\0.04 -1.65\\0.1 -1.75\\-0.09 -1.82\\0.06 -2.0\\-0.03 -2.05\\0.0 -2.7\\}
\pts{1.75}{scAd}{0.0 0.0\\-0.04 -0.2\\0.06 -0.3\\-0.1 -0.45\\0.1 -0.55\\0.0 -0.6\\-0.15 -0.7\\0.14 -0.75\\-0.05 -0.8\\0.05 -0.88\\-0.18 -0.92\\0.18 -0.98\\-0.08 -1.02\\0.1 -1.06\\-0.2 -1.1\\0.0 -1.14\\0.2 -1.18\\-0.12 -1.22\\0.07 -1.26\\-0.22 -1.3\\0.15 -1.34\\-0.03 -1.38\\0.21 -1.42\\-0.16 -1.46\\0.03 -1.5\\-0.09 -1.55\\0.12 -1.58\\-0.2 -1.62\\0.18 -1.66\\-0.02 -1.7\\0.08 -1.76\\-0.14 -1.8\\0.14 -1.86\\-0.06 -1.9\\0.04 -1.96\\-0.16 -2.0\\0.1 -2.05\\-0.04 -2.12\\0.07 -2.2\\-0.09 -2.28\\0.02 -2.35\\-0.05 -2.45\\0.04 -2.55\\0.0 -2.7\\-0.01 -2.85\\}
\pts{1.75}{scAd}{0.05 -0.4\\-0.06 -0.65\\0.12 -0.9\\-0.12 -0.95\\0.02 -1.08\\-0.16 -1.2\\0.16 -1.24\\0.05 -1.32\\-0.1 -1.4\\0.1 -1.46\\-0.05 -1.6\\0.06 -1.68\\-0.12 -1.72\\0.12 -1.92\\-0.1 -2.15\\}
\pts{2.25}{scBd}{0.0 0.1\\0.02 -0.2\\-0.04 -0.45\\0.06 -0.6\\-0.1 -0.7\\0.12 -0.8\\0.0 -0.85\\-0.15 -0.92\\0.16 -0.98\\0.04 -1.05\\-0.12 -1.1\\0.2 -1.15\\-0.05 -1.2\\0.1 -1.25\\-0.19 -1.3\\0.14 -1.35\\-0.02 -1.42\\0.18 -1.48\\-0.14 -1.52\\0.06 -1.58\\-0.08 -1.63\\0.15 -1.7\\-0.17 -1.75\\0.02 -1.8\\0.1 -1.87\\-0.1 -1.92\\0.06 -1.98\\-0.04 -2.02\\0.12 -2.05\\-0.02 -2.3\\0.0 -2.9\\0.03 -2.1\\}
\pts{2.75}{mcAd}{0.03 -0.1\\-0.06 -0.2\\0.1 -0.35\\-0.14 -0.5\\0.05 -0.6\\-0.02 -0.65\\0.16 -0.7\\-0.18 -0.8\\0.08 -0.9\\-0.1 -1.0\\0.2 -1.05\\0.0 -1.15\\-0.2 -1.25\\0.12 -1.4\\-0.06 -1.5\\0.18 -1.7\\0.1 -1.75\\0.15 -1.8\\0.05 -1.85\\-0.14 -1.9\\0.08 -2.0\\-0.05 -2.1\\0.12 -2.2\\-0.1 -2.35\\0.0 -2.5\\0.04 -2.7\\-0.02 -2.85\\-0.2 -1.6\\}
\pts{3.25}{mcBd}{0.02 -0.25\\-0.06 -0.3\\0.08 -0.5\\-0.1 -0.6\\0.14 -0.65\\0.0 -0.75\\-0.15 -0.82\\0.17 -0.9\\0.05 -1.0\\-0.2 -1.05\\0.1 -1.12\\-0.05 -1.2\\0.2 -1.3\\-0.14 -1.4\\0.04 -1.5\\0.12 -1.6\\-0.1 -1.65\\-0.02 -1.75\\0.08 -1.85\\-0.12 -1.9\\0.06 -2.0\\-0.04 -2.1\\0.02 -2.3\\-0.05 -2.5\\0.01 -2.7\\0.03 -2.85\\}
\pts{3.75}{add}{0 -0.02\\0 -0.1\\0 -1.17\\}
\pts{4.25}{add}{0.05 -0.05\\-0.12 -0.3\\0.16 -0.35\\-0.05 -0.5\\0.08 -0.55\\0.0 -0.7\\0.18 -0.72\\-0.15 -0.85\\0.1 -0.9\\-0.04 -1.0\\0.14 -1.1\\-0.1 -1.25\\0.05 -1.35\\0.1 -1.2\\-0.07 -1.6\\0.02 -1.8\\0.12 -0.25\\}
\pts{4.75}{arAd}{0.0 -0.5\\0.03 -0.8\\-0.1 -1.0\\0.08 -1.1\\-0.16 -1.25\\0.14 -1.3\\0.0 -1.4\\-0.2 -1.45\\0.2 -1.5\\-0.08 -1.6\\0.1 -1.65\\-0.15 -1.75\\0.05 -1.8\\0.16 -1.9\\-0.1 -1.95\\0.0 -2.05\\0.08 -2.15\\-0.05 -2.3\\0.03 -2.5\\-0.02 -2.65\\0.0 -2.8\\0.0 -3.2\\}
\pts{5.25}{arBd}{0.02 -0.05\\-0.03 -0.15\\0.0 -0.6\\0.04 -0.95\\-0.1 -1.1\\0.1 -1.1\\0.16 -1.35\\-0.05 -1.4\\0.08 -1.45\\-0.15 -1.3\\0.02 -1.75\\0.05 -1.85\\0.1 -1.95\\-0.06 -1.6\\}
\med{0.75}{0.25}{-1.4}{hcA}
\med{1.25}{0.24}{-1.43}{hcB}
\med{1.75}{0.25}{-1.43}{scA}
\med{2.25}{0.24}{-1.39}{scB}
\med{2.75}{0.25}{-1.31}{mcA}
\med{3.25}{0.25}{-1.25}{mcB}
\med{4.25}{0.24}{-0.7}{adB}
\med{4.75}{0.25}{-1.67}{arA}
\med{5.25}{0.23}{-1.25}{arB}
\ns{1}{1.37}\ns{2}{1.37}\ns{3}{1.37}\ns{4}{1.37}
\node[font=\fontsize{10}{12}\selectfont, text=black!65] at (axis cs:5,1.42) {*};
\cnt{0.75}{80}\cnt{1.25}{25}\cnt{1.75}{105}\cnt{2.25}{63}\cnt{2.75}{33}
\cnt{3.25}{34}\cnt{3.75}{3}\cnt{4.25}{17}\cnt{4.75}{28}\cnt{5.25}{14}
\node[apoe] at (axis cs:3,-3.41) {ApoE main effect: \textit{F} = 1.11, \textit{P} = 0.263};
\end{axis}

% panel letters
\node[anchor=base west, inner sep=0pt, font=\bfseries\fontsize{26}{26}\selectfont] at (10pt,597pt) {A};
\node[anchor=base west, inner sep=0pt, font=\bfseries\fontsize{26}{26}\selectfont] at (543pt,597pt) {B};
\node[anchor=base west, inner sep=0pt, font=\bfseries\fontsize{26}{26}\selectfont] at (10pt,272pt) {C};
\node[anchor=base west, inner sep=0pt, font=\bfseries\fontsize{26}{26}\selectfont] at (579pt,272pt) {D};
\end{tikzpicture}
\end{document}
